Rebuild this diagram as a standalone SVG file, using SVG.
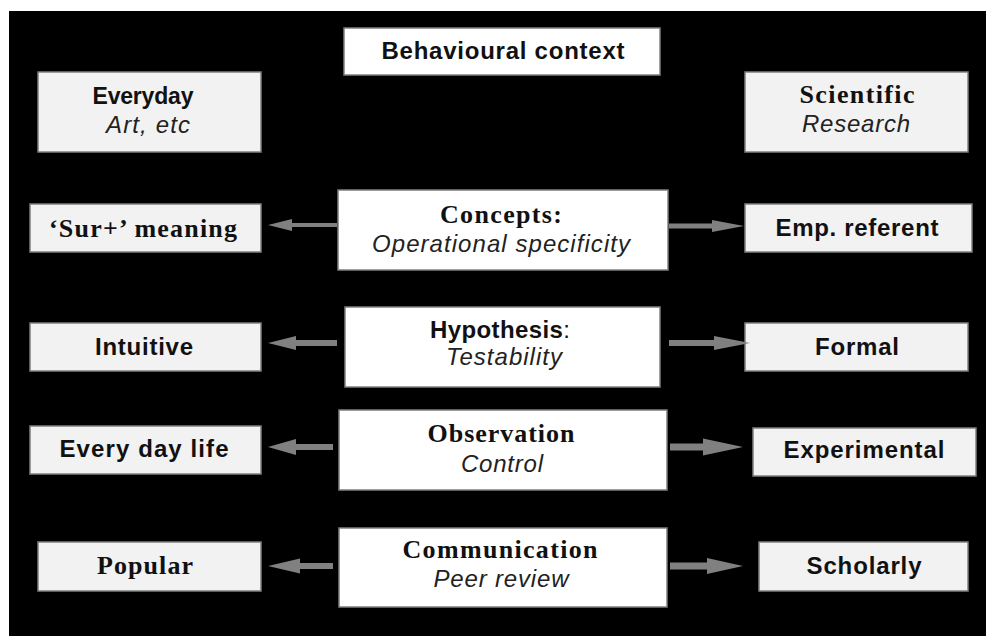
<svg xmlns="http://www.w3.org/2000/svg" width="986" height="636" viewBox="0 0 986 636">
  <style>
    .side { fill: #f2f2f2; stroke: #7f7f7f; stroke-width: 1.5; }
    .core { fill: #ffffff; stroke: #7f7f7f; stroke-width: 1.5; }
    .sans { font-family: "Liberation Sans", Arial, sans-serif; font-weight: bold; font-size: 24px; fill: #111; }
    .serif { font-family: "Liberation Serif", "Times New Roman", serif; font-weight: bold; font-size: 26px; fill: #111; }
    .ital { font-family: "Liberation Sans", Arial, sans-serif; font-style: italic; font-size: 24px; fill: #222; }
    .reg { font-weight: normal; }
    text { text-anchor: middle; }
    .arrow { fill: #808080; }
  </style>

  <rect x="0" y="0" width="986" height="636" fill="#ffffff"/>
  <rect x="9" y="11" width="977" height="625" fill="#000000"/>

  <!-- top header -->
  <g id="behavioural-context">
    <rect class="core" x="344" y="28" width="316" height="47"/>
    <text class="sans" x="503" y="59" textLength="243" lengthAdjust="spacing">Behavioural context</text>
  </g>

  <!-- column headers -->
  <g id="everyday">
    <rect class="side" x="38" y="72" width="223" height="80"/>
    <text class="sans" x="143" y="104" style="font-size:23px" textLength="101" lengthAdjust="spacing">Everyday</text>
    <text class="ital" x="148" y="133" textLength="84" lengthAdjust="spacing">Art, etc</text>
  </g>
  <g id="scientific">
    <rect class="side" x="745" y="72" width="223" height="80"/>
    <text class="serif" x="857" y="103" textLength="115" lengthAdjust="spacing">Scientific</text>
    <text class="ital" x="856" y="132" textLength="108" lengthAdjust="spacing">Research</text>
  </g>

  <!-- row 1: concepts -->
  <g id="sur-meaning">
    <rect class="side" x="30" y="204" width="231" height="48"/>
    <text class="serif" x="143" y="237" textLength="188" lengthAdjust="spacing">‘Sur+’ meaning</text>
  </g>
  <g id="concepts">
    <rect class="core" x="338" y="190" width="330" height="80"/>
    <text class="serif" x="501" y="223" textLength="122" lengthAdjust="spacing">Concepts:</text>
    <text class="ital" x="501" y="252" textLength="258" lengthAdjust="spacing">Operational specificity</text>
  </g>
  <g id="emp-referent">
    <rect class="side" x="745" y="204" width="227" height="48"/>
    <text class="sans" x="857" y="236" textLength="163" lengthAdjust="spacing">Emp. referent</text>
  </g>

  <!-- row 2: hypothesis -->
  <g id="intuitive">
    <rect class="side" x="30" y="323" width="231" height="48"/>
    <text class="sans" x="144" y="355" textLength="98" lengthAdjust="spacing">Intuitive</text>
  </g>
  <g id="hypothesis">
    <rect class="core" x="345" y="307" width="315" height="80"/>
    <text class="sans" x="500" y="338" textLength="140" lengthAdjust="spacing">Hypothesis<tspan class="reg">:</tspan></text>
    <text class="ital" x="504" y="365" textLength="116" lengthAdjust="spacing">Testability</text>
  </g>
  <g id="formal">
    <rect class="side" x="745" y="323" width="223" height="48"/>
    <text class="sans" x="857" y="355" textLength="84" lengthAdjust="spacing">Formal</text>
  </g>

  <!-- row 3: observation -->
  <g id="every-day-life">
    <rect class="side" x="30" y="426" width="231" height="48"/>
    <text class="sans" x="144" y="457" textLength="169" lengthAdjust="spacing">Every day life</text>
  </g>
  <g id="observation">
    <rect class="core" x="339" y="410" width="328" height="80"/>
    <text class="serif" x="501" y="442" textLength="147" lengthAdjust="spacing">Observation</text>
    <text class="ital" x="502" y="472" textLength="82" lengthAdjust="spacing">Control</text>
  </g>
  <g id="experimental">
    <rect class="side" x="753" y="428" width="223" height="48"/>
    <text class="sans" x="864" y="458" textLength="161" lengthAdjust="spacing">Experimental</text>
  </g>

  <!-- row 4: communication -->
  <g id="popular">
    <rect class="side" x="38" y="542" width="223" height="49"/>
    <text class="serif" x="145" y="574" textLength="96" lengthAdjust="spacing">Popular</text>
  </g>
  <g id="communication">
    <rect class="core" x="339" y="528" width="328" height="79"/>
    <text class="serif" x="500" y="558" textLength="195" lengthAdjust="spacing">Communication</text>
    <text class="ital" x="501" y="587" textLength="135" lengthAdjust="spacing">Peer review</text>
  </g>
  <g id="scholarly">
    <rect class="side" x="759" y="542" width="209" height="49"/>
    <text class="sans" x="864" y="574" textLength="115" lengthAdjust="spacing">Scholarly</text>
  </g>

  <!-- block arrows pointing outwards from the centre column -->
  <g id="connectors">
    <polygon class="arrow" points="337,223 292,223 292,219 268,225 292,231 292,227 337,227"/>
    <polygon class="arrow" points="669,223.5 712,223.5 712,220 744,226 712,232 712,228.5 669,228.5"/>
    <polygon class="arrow" points="337,340 296,340 296,336 268,343 296,350 296,346 337,346"/>
    <polygon class="arrow" points="669,340 714,340 714,336 750,343 714,350 714,346 669,346"/>
    <polygon class="arrow" points="333,444 296,444 296,439 268,447 296,455 296,450 333,450"/>
    <polygon class="arrow" points="670,443.5 703,443.5 703,438.5 743,447 703,455.5 703,450.5 670,450.5"/>
    <polygon class="arrow" points="333,563 300,563 300,558.5 268,566 300,573.5 300,569 333,569"/>
    <polygon class="arrow" points="670,562.5 707,562.5 707,558 743,566 707,574 707,569.5 670,569.5"/>
  </g>
</svg>
